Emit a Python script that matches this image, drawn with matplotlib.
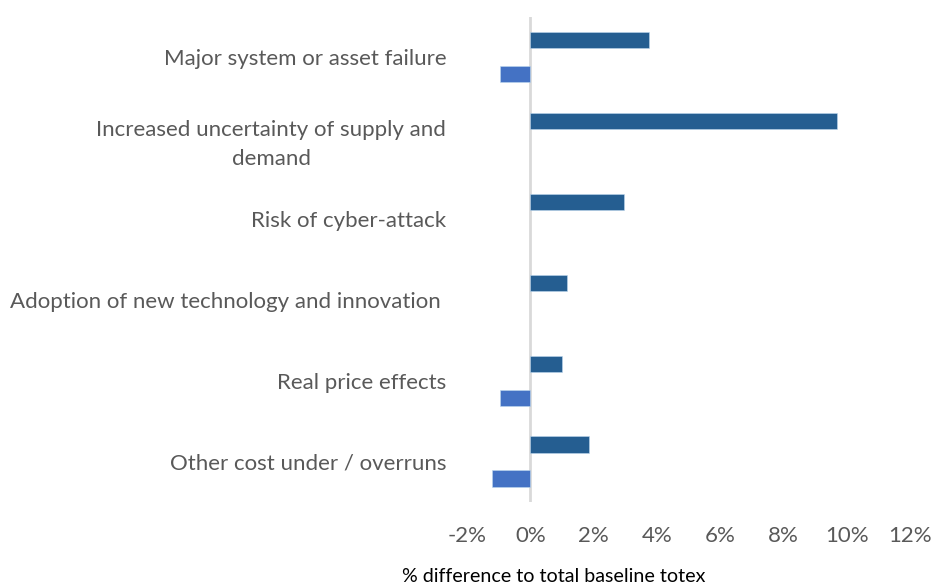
import matplotlib
matplotlib.use("Agg")
import matplotlib.pyplot as plt
import numpy as np

categories = [
    "Major system or asset failure",
    "Increased uncertainty of supply and\ndemand",
    "Risk of cyber-attack",
    "Adoption of new technology and innovation ",
    "Real price effects",
    "Other cost under / overruns",
]
upper_values = [3.75, 9.7, 2.95, 1.15, 1.0, 1.85]
lower_values = [-0.97, np.nan, np.nan, np.nan, -0.97, -1.2]
xticks = [-2, 0, 2, 4, 6, 8, 10, 12]
xtick_labels = ["-2%", "0%", "2%", "4%", "6%", "8%", "10%", "12%"]
xlabel = "% difference to total baseline totex"

FONT = "Lato"
GREY = "#595959"
FS = 16.0

fig = plt.figure(figsize=(9.31, 5.87), dpi=100)
ax = fig.add_axes([467 / 931, 1 - 502 / 587, (910 - 467) / 931, (502 - 16.5) / 587])

y = np.arange(len(categories))
h = 0.2
off = 0.21
ax.barh(y - off, upper_values, height=h, color="#255E91", edgecolor="#BDD7EE", linewidth=0.4, zorder=2)
ax.barh(y + off, lower_values, height=h, color="#4472C4", edgecolor="#BDD7EE", linewidth=0.4, zorder=2)

ax.set_ylim(len(categories) - 0.5, -0.5)
ax.set_xlim(-2, 12)
ax.axvline(0, color="#D9D9D9", linewidth=2, zorder=1)

ax.set_yticks(y)
ax.set_yticklabels(categories, fontsize=FS, color=GREY, family=FONT, multialignment="center",
                   linespacing=1.6)
ax.set_xticks(xticks)
ax.set_xticklabels(xtick_labels, fontsize=FS, color=GREY, family=FONT)
ax.tick_params(axis="y", length=0, pad=15)
ax.tick_params(axis="x", length=0, pad=17)
for s in ax.spines.values():
    s.set_visible(False)

fig.text(554 / 931, 1 - 577 / 587, xlabel, ha="center", va="center", fontsize=14.1, color="black", family=FONT)

fig.savefig("out.png", dpi=100)
